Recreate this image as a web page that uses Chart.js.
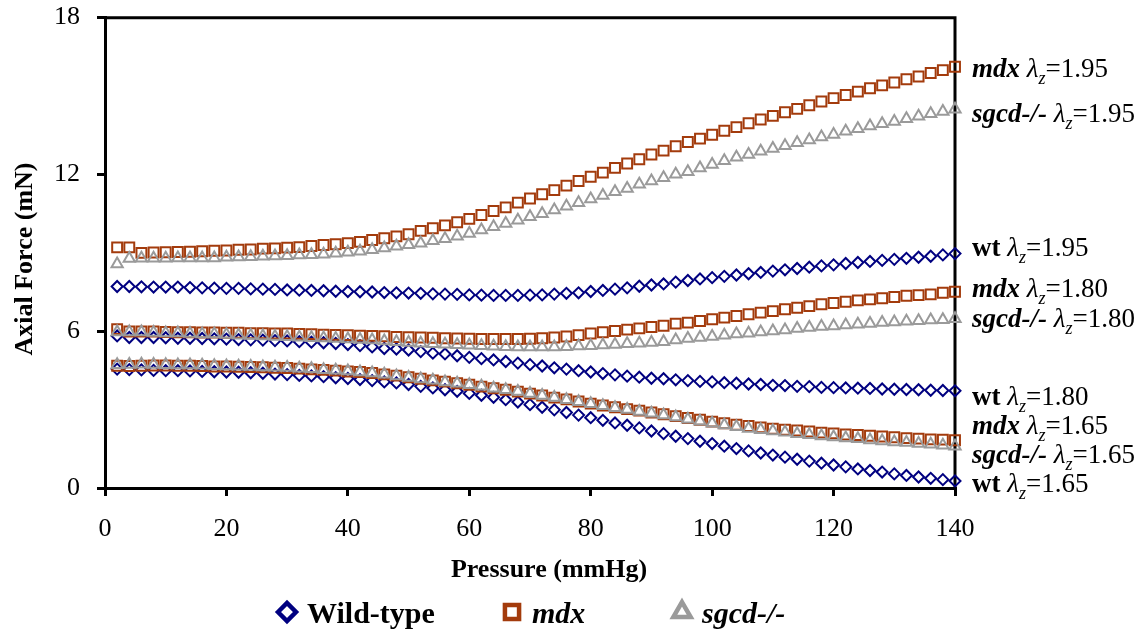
<!DOCTYPE html>
<html>
<head>
<meta charset="utf-8">
<script src="https://cdn.jsdelivr.net/npm/chart.js@4.4.1/dist/chart.umd.min.js"></script>
<style>
  html, body { margin: 0; padding: 0; background: #fff; }
</style>
</head>
<body>
<canvas id="forceChart" width="1147" height="632"></canvas>
<script>
// pressure steps (mmHg)
const pressure = [2,4,6,8,10,12,14,16,18,20,22,24,26,28,30,32,34,36,38,40,42,44,46,48,50,
  52,54,56,58,60,62,64,66,68,70,72,74,76,78,80,82,84,86,88,90,92,94,96,98,100,
  102,104,106,108,110,112,114,116,118,120,122,124,126,128,130,132,134,136,138,140];

// axial force (mN)
const wt165 = [4.55,4.53,4.52,4.50,4.49,4.49,4.48,4.46,4.45,4.44,4.43,4.41,4.39,4.36,4.34,4.31,4.29,4.26,4.22,4.19,4.15,4.11,4.06,
  4.02,3.96,3.89,3.83,3.76,3.70,3.62,3.55,3.47,3.38,3.29,3.19,3.09,2.99,2.89,2.79,2.69,2.59,2.49,2.40,2.30,2.18,2.08,1.98,
  1.89,1.79,1.70,1.60,1.51,1.42,1.34,1.26,1.18,1.10,1.03,0.95,0.88,0.81,0.73,0.67,0.61,0.54,0.48,0.42,0.37,0.32,0.27];
const mdx165 = [4.68,4.67,4.68,4.69,4.69,4.68,4.68,4.67,4.65,4.65,4.64,4.63,4.62,4.60,4.59,4.57,4.54,4.52,4.49,4.46,4.44,4.40,4.35,
  4.30,4.24,4.18,4.12,4.07,4.01,3.95,3.88,3.82,3.76,3.69,3.61,3.54,3.46,3.39,3.31,3.23,3.16,3.09,3.02,2.96,2.89,2.82,2.75,
  2.68,2.61,2.54,2.48,2.42,2.37,2.32,2.27,2.23,2.20,2.16,2.12,2.09,2.05,2.03,2.00,1.97,1.94,1.91,1.89,1.86,1.85,1.83];
const sgcd165 = [4.72,4.73,4.74,4.73,4.72,4.71,4.71,4.70,4.68,4.67,4.66,4.65,4.63,4.62,4.61,4.58,4.56,4.53,4.51,4.48,4.44,4.40,4.35,
  4.29,4.23,4.17,4.12,4.06,4.01,3.95,3.89,3.82,3.76,3.69,3.62,3.54,3.46,3.38,3.30,3.22,3.15,3.07,3.00,2.93,2.86,2.79,2.72,
  2.63,2.55,2.48,2.41,2.34,2.28,2.23,2.18,2.13,2.08,2.04,1.99,1.95,1.91,1.88,1.84,1.80,1.76,1.74,1.70,1.67,1.64,1.60];

const wt180 = [5.82,5.76,5.76,5.76,5.75,5.73,5.73,5.72,5.71,5.70,5.68,5.67,5.66,5.64,5.63,5.60,5.58,5.56,5.53,5.49,5.45,5.40,5.34,
  5.32,5.28,5.22,5.16,5.13,5.06,5.00,4.95,4.90,4.84,4.78,4.72,4.67,4.60,4.55,4.49,4.44,4.38,4.33,4.28,4.24,4.20,4.18,4.14,
  4.11,4.08,4.06,4.03,4.01,3.98,3.96,3.93,3.92,3.89,3.88,3.85,3.84,3.83,3.82,3.81,3.79,3.78,3.77,3.76,3.74,3.73,3.72];
const mdx180 = [6.08,5.99,5.99,5.99,5.97,5.96,5.96,5.95,5.95,5.94,5.94,5.92,5.92,5.91,5.91,5.90,5.89,5.87,5.86,5.85,5.83,5.82,5.81,
  5.78,5.77,5.76,5.75,5.73,5.72,5.71,5.70,5.70,5.70,5.70,5.71,5.73,5.76,5.80,5.85,5.91,5.96,6.01,6.06,6.11,6.16,6.21,6.29,
  6.33,6.39,6.46,6.52,6.58,6.65,6.71,6.77,6.84,6.90,6.96,7.03,7.08,7.13,7.18,7.22,7.26,7.31,7.36,7.38,7.41,7.47,7.51];
const sgcd180 = [5.97,5.97,5.97,5.95,5.93,5.93,5.91,5.89,5.89,5.87,5.85,5.84,5.82,5.80,5.79,5.77,5.75,5.74,5.72,5.70,5.68,5.66,5.63,
  5.60,5.57,5.54,5.52,5.50,5.48,5.46,5.44,5.42,5.41,5.40,5.40,5.40,5.40,5.41,5.43,5.44,5.47,5.49,5.52,5.54,5.57,5.60,5.66,
  5.72,5.76,5.80,5.85,5.89,5.92,5.97,6.01,6.05,6.10,6.14,6.18,6.20,6.24,6.27,6.30,6.33,6.35,6.38,6.40,6.43,6.44,6.48];

const wt195 = [7.71,7.71,7.70,7.69,7.69,7.69,7.67,7.66,7.65,7.64,7.64,7.62,7.61,7.60,7.58,7.57,7.56,7.55,7.53,7.52,7.51,7.50,7.48,
  7.47,7.46,7.45,7.43,7.42,7.41,7.39,7.38,7.37,7.37,7.37,7.38,7.39,7.42,7.45,7.47,7.52,7.56,7.61,7.66,7.72,7.77,7.81,7.88,
  7.94,8.00,8.05,8.10,8.15,8.20,8.25,8.30,8.35,8.40,8.45,8.50,8.54,8.59,8.63,8.67,8.71,8.75,8.79,8.83,8.87,8.92,8.97];
const mdx195 = [9.21,9.21,9.00,9.01,9.02,9.03,9.04,9.06,9.08,9.09,9.12,9.13,9.16,9.17,9.20,9.22,9.26,9.30,9.33,9.37,9.42,9.49,9.56,
  9.63,9.71,9.84,9.94,10.05,10.17,10.30,10.45,10.60,10.74,10.92,11.08,11.24,11.40,11.57,11.75,11.91,12.07,12.25,12.42,12.58,12.76,12.91,13.08,
  13.24,13.37,13.52,13.67,13.81,13.96,14.10,14.24,14.38,14.51,14.65,14.79,14.92,15.04,15.17,15.30,15.41,15.52,15.64,15.75,15.88,15.99,16.12];
const sgcd195 = [8.57,8.78,8.79,8.79,8.79,8.80,8.80,8.80,8.80,8.83,8.84,8.85,8.87,8.88,8.89,8.92,8.93,8.95,8.98,9.02,9.06,9.12,9.18,
  9.25,9.31,9.37,9.46,9.54,9.63,9.74,9.87,10.00,10.12,10.25,10.38,10.50,10.64,10.78,10.92,11.06,11.19,11.34,11.46,11.62,11.75,11.87,12.01,
  12.10,12.25,12.38,12.52,12.66,12.76,12.89,12.99,13.10,13.21,13.32,13.43,13.53,13.65,13.75,13.85,13.94,14.03,14.13,14.23,14.32,14.41,14.49];

const legendNames = ['Wild-type', 'mdx', 'sgcd-/-'];
const shortNames = ['wt', 'mdx', 'sgcd-/-'];
const stretch = ['1.65', '1.80', '1.95'];

// look of each group
const groups = [
  { style: 'rectRot', color: '#000080', radius: 5.5, legendRadius: 9, italic: false, sets: [wt165, wt180, wt195] },
  { style: 'rect', color: '#A33B0C', radius: 7, legendRadius: 10, italic: true, sets: [mdx165, mdx180, mdx195] },
  { style: 'triangle', color: '#9A9A9A', radius: 6.5, legendRadius: 10, italic: true, sets: [sgcd165, sgcd180, sgcd195] }
];

// right hand labels: [group index, stretch index, baseline px]
const sideLabels = [
  [1, 2, 77], [2, 2, 122], [0, 2, 256], [1, 1, 297], [2, 1, 327],
  [0, 1, 405], [1, 0, 434], [2, 0, 463], [0, 0, 492]
];
const legendX = [287, 512, 682];

const SERIF = "'Liberation Serif', 'Times New Roman', serif";

const datasets = [];
groups.forEach((g, gi) => {
  g.sets.forEach((vals, si) => {
    datasets.push({
      label: shortNames[gi] + ' ' + stretch[si],
      data: vals.map((v, i) => ({ x: pressure[i], y: v })),
      pointStyle: g.style,
      pointRadius: g.radius,
      pointBorderWidth: 2,
      pointBorderColor: g.color,
      pointBackgroundColor: 'rgba(0,0,0,0)',
      showLine: false,
      clip: false,
      order: 3 - gi
    });
  });
});

function drawSideLabel(ctx, x, y, gi, lam) {
  const parts = [
    [shortNames[gi], (groups[gi].italic ? 'italic bold 27px ' : 'bold 27px ') + SERIF, 0],
    [' ', '27px ' + SERIF, 0],
    ['\u03bb', 'italic 27px ' + SERIF, 0],
    ['z', 'italic 18px ' + SERIF, 7],
    ['=' + lam, '27px ' + SERIF, 0]
  ];
  for (const [t, f, dy] of parts) {
    ctx.font = f;
    ctx.fillText(t, x, y + dy);
    x += ctx.measureText(t).width;
  }
}

const decor = {
  id: 'decor',
  beforeDatasetsDraw(chart) {
    const { ctx, chartArea: a } = chart;
    ctx.save();
    ctx.strokeStyle = '#000';
    ctx.lineWidth = 3;
    ctx.beginPath();
    ctx.moveTo(a.left, a.top);
    ctx.lineTo(a.right, a.top);
    ctx.lineTo(a.right, a.bottom);
    ctx.stroke();
    ctx.restore();
  },
  afterDraw(chart) {
    const { ctx } = chart;
    ctx.save();
    ctx.fillStyle = '#000';
    ctx.textBaseline = 'alphabetic';

    // axis titles
    ctx.font = 'bold 26px ' + SERIF;
    ctx.textAlign = 'center';
    ctx.fillText('Pressure (mmHg)', 549, 577);
    ctx.save();
    ctx.translate(32, 259);
    ctx.rotate(-Math.PI / 2);
    ctx.fillText('Axial Force (mN)', 0, 0);
    ctx.restore();

    // labels on the right
    ctx.textAlign = 'left';
    sideLabels.forEach(([gi, si, y]) => drawSideLabel(ctx, 972, y, gi, stretch[si]));

    // legend
    groups.forEach((g, gi) => {
      const x = legendX[gi];
      ctx.fillStyle = '#fff';
      ctx.strokeStyle = g.color;
      ctx.lineWidth = 4.5;
      ctx.lineJoin = 'miter';
      Chart.helpers.drawPoint(ctx, { pointStyle: g.style, radius: g.legendRadius, borderWidth: 4.5, rotation: 0 }, x, 612);
      ctx.fillStyle = '#000';
      ctx.font = (g.italic ? 'italic bold 30px ' : 'bold 30px ') + SERIF;
      ctx.fillText(legendNames[gi], x + 20, 623);
    });
    ctx.restore();
  }
};

const xTickFont = { family: SERIF, size: 26 };
// tiny line height so the top label does not push the plot area down
const yTickFont = { family: SERIF, size: 26, lineHeight: 0.05 };
const axisGrid = { drawOnChartArea: false, drawTicks: true, tickLength: 8, color: '#000', lineWidth: 3 };
const axisBorder = { display: true, color: '#000', width: 3 };

new Chart(document.getElementById('forceChart'), {
  type: 'scatter',
  data: { datasets },
  options: {
    responsive: false,
    animation: false,
    devicePixelRatio: 1,
    layout: { autoPadding: false, padding: { left: 0, right: 192, top: 15, bottom: 0 } },
    plugins: { legend: { display: false }, tooltip: { enabled: false } },
    scales: {
      x: {
        type: 'linear', min: 0, max: 140,
        afterFit: s => { s.height = 144; },
        ticks: { stepSize: 20, font: xTickFont, color: '#000', padding: 18, maxRotation: 0 },
        grid: axisGrid, border: axisBorder
      },
      y: {
        type: 'linear', min: 0, max: 18,
        afterFit: s => { s.width = 105; },
        ticks: { stepSize: 6, font: yTickFont, color: '#000', padding: 17 },
        grid: axisGrid, border: axisBorder
      }
    }
  },
  plugins: [decor]
});
</script>
</body>
</html>
